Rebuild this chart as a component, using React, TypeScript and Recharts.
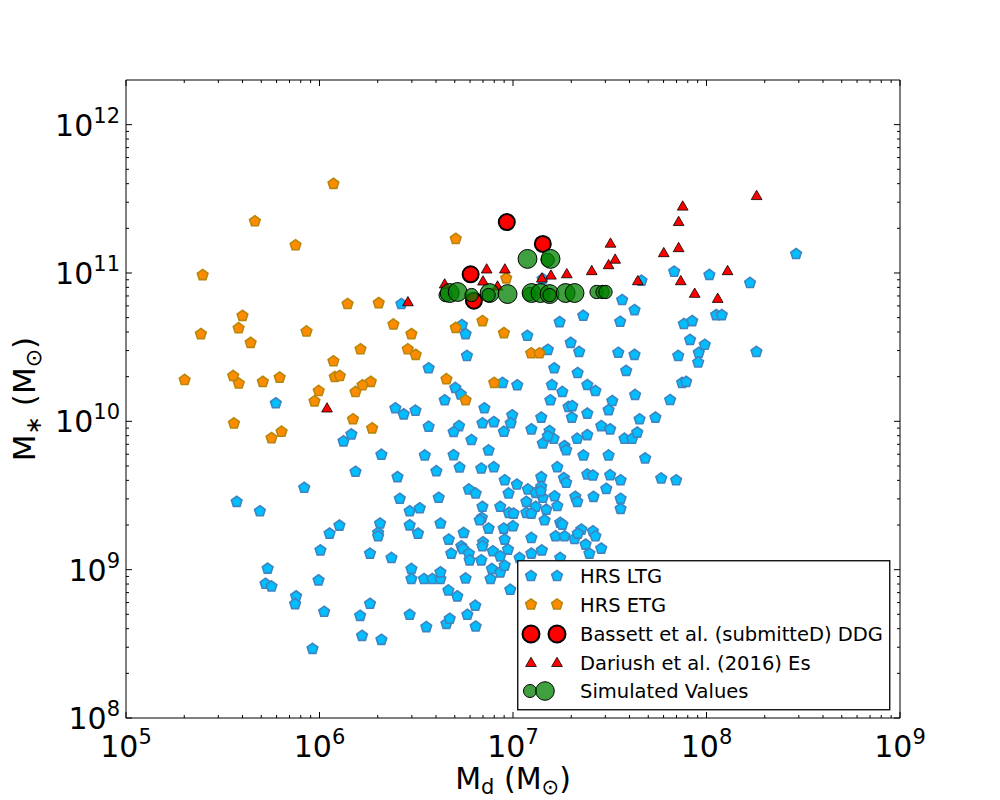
import React from "react";
import { Legend, Scatter, ScatterChart, XAxis, YAxis, ZAxis } from "recharts";

const FONT = "'DejaVu Sans', sans-serif";

// log10(M_dust / Msun), log10(M_star / Msun)
const hrsLtg: [number, number][] = [
  [5.774, 10.122], [6.165, 9.912], [6.124, 9.865], [6.32, 9.775], [6.186, 9.66], [5.921, 9.552],
  [5.572, 9.457], [5.692, 9.394], [6.313, 9.311], [6.303, 9.248], [6.303, 9.225], [6.103, 9.297],
  [6.052, 9.243], [6.005, 9.13], [6.261, 9.108], [5.732, 9.007], [5.721, 8.905], [5.752, 8.887],
  [5.995, 8.928], [5.879, 8.82], [5.874, 8.768], [6.024, 8.716], [6.261, 8.77], [6.21, 8.689],
  [6.22, 8.554], [6.32, 8.527], [5.964, 8.466], [6.423, 10.791], [6.736, 10.649], [6.755, 10.588],
  [7.074, 10.577], [7.18, 10.482], [7.213, 10.358], [6.762, 10.441], [6.564, 10.358], [6.702, 10.225],
  [6.73, 10.182], [6.946, 10.259], [7.022, 10.243], [6.647, 10.142], [7.201, 10.245], [7.193, 10.142],
  [6.392, 10.088], [6.435, 10.047], [6.496, 10.072], [6.852, 10.088], [6.996, 10.041], [7.146, 10.025],
  [7.241, 10.669], [7.664, 10.948], [7.833, 11.009], [8.015, 10.987], [7.564, 10.818], [7.628, 10.75],
  [7.363, 10.712], [7.554, 10.671], [7.883, 10.656], [7.926, 10.676], [8.05, 10.716], [7.298, 10.529],
  [7.342, 10.468], [7.544, 10.462], [7.628, 10.448], [7.915, 10.549], [7.991, 10.516], [7.96, 10.462],
  [7.854, 10.441], [7.957, 10.397], [7.334, 10.326], [7.585, 10.34], [7.255, 10.198], [7.384, 10.245],
  [7.426, 10.205], [7.631, 10.178], [7.874, 10.259], [7.895, 10.266], [7.287, 10.097], [7.306, 10.103],
  [7.513, 10.137], [7.494, 10.076], [7.384, 10.052], [7.812, 10.144], [7.654, 10.014], [7.736, 10.025],
  [7.304, 10.025], [8.463, 11.128], [8.225, 10.933], [8.079, 10.716], [8.258, 10.468], [6.564, 9.964],
  [6.721, 9.968], [6.693, 9.928], [6.842, 9.987], [6.901, 9.995], [6.988, 9.987], [6.953, 9.93],
  [7.095, 9.946], [7.189, 9.935], [7.21, 9.883], [7.154, 9.851], [7.18, 9.901], [6.785, 9.874],
  [6.544, 9.77], [6.693, 9.772], [6.874, 9.804], [6.724, 9.689], [6.604, 9.664], [6.836, 9.682],
  [6.901, 9.691], [6.403, 9.624], [6.957, 9.603], [7.02, 9.574], [7.146, 9.624], [7.229, 9.691],
  [6.772, 9.541], [6.807, 9.514], [6.977, 9.514], [7.077, 9.541], [7.146, 9.559], [6.415, 9.478],
  [6.616, 9.485], [6.842, 9.424], [6.934, 9.424], [7.215, 9.495], [7.069, 9.457], [7.117, 9.424],
  [7.154, 9.485], [6.466, 9.394], [6.518, 9.414], [6.979, 9.383], [7.003, 9.378], [6.839, 9.349],
  [6.828, 9.333], [7.069, 9.383], [7.095, 9.378], [7.172, 9.405], [7.163, 9.333], [7.229, 9.429],
  [6.466, 9.299], [6.509, 9.243], [6.625, 9.311], [6.874, 9.277], [7.0, 9.293], [6.952, 9.277],
  [6.745, 9.248], [6.668, 9.203], [6.845, 9.185], [6.842, 9.158], [6.957, 9.203], [6.974, 9.135],
  [7.095, 9.214], [7.22, 9.225], [6.733, 9.158], [6.741, 9.14], [6.896, 9.124], [7.034, 9.079],
  [7.095, 9.108], [7.149, 9.13], [6.681, 9.108], [6.772, 9.108], [6.372, 9.079], [6.934, 9.09],
  [6.475, 9.005], [6.475, 8.937], [6.54, 8.937], [6.583, 8.937], [6.625, 8.937], [6.625, 8.982],
  [6.755, 8.941], [6.776, 9.063], [6.836, 9.063], [6.891, 9.005], [6.884, 8.937], [6.934, 8.982],
  [6.957, 9.027], [6.986, 8.865], [6.666, 8.86], [6.712, 8.82], [6.805, 8.757], [6.466, 8.696],
  [6.552, 8.613], [6.656, 8.635], [6.673, 8.669], [6.764, 8.696], [6.807, 8.617], [7.456, 9.968],
  [7.502, 9.946], [7.332, 9.883], [7.384, 9.907], [7.576, 9.883], [7.616, 9.883], [7.642, 9.924],
  [7.266, 9.833], [7.275, 9.806], [7.364, 9.77], [7.494, 9.77], [7.683, 9.75], [7.384, 9.642],
  [7.413, 9.635], [7.502, 9.637], [7.556, 9.603], [7.263, 9.617], [7.275, 9.586], [7.766, 9.615],
  [7.843, 9.603], [7.482, 9.545], [7.322, 9.491], [7.332, 9.457], [7.416, 9.491], [7.556, 9.478],
  [7.556, 9.41], [7.244, 9.316], [7.255, 9.304], [7.266, 9.225], [7.318, 9.207], [7.353, 9.27],
  [7.335, 9.243], [7.413, 9.259], [7.426, 9.225], [7.375, 9.169], [7.395, 9.108], [7.456, 9.142],
  [7.244, 9.079], [7.117, 9.518], [7.143, 9.529], [7.153, 10.959],
];

const hrsEtg: [number, number][] = [
  [6.072, 11.601], [5.666, 11.349], [5.876, 11.187], [5.396, 10.986], [6.145, 10.791], [6.306, 10.797],
  [5.602, 10.711], [5.582, 10.628], [5.387, 10.588], [5.933, 10.606], [5.644, 10.529], [6.212, 10.486],
  [6.072, 10.405], [5.303, 10.279], [5.554, 10.306], [5.583, 10.255], [5.707, 10.266], [5.794, 10.295],
  [6.079, 10.299], [6.105, 10.306], [6.265, 10.266], [6.222, 10.243], [6.186, 10.198], [5.996, 10.205],
  [5.974, 10.135], [6.173, 10.014], [6.272, 9.953], [5.558, 9.986], [5.804, 9.93], [5.752, 9.887],
  [6.704, 11.23], [6.965, 10.964], [6.382, 10.653], [6.475, 10.588], [6.704, 10.63], [6.842, 10.676],
  [6.953, 10.595], [6.456, 10.486], [6.497, 10.448], [7.094, 10.459], [7.137, 10.459], [6.656, 10.284],
  [6.903, 10.259], [6.755, 10.142],
];

const bassettDdg: [number, number][] = [
  [6.781, 10.991], [6.798, 10.813], [6.968, 11.343], [7.154, 11.196],
];

const dariushEs: [number, number][] = [
  [6.039, 10.09], [6.457, 10.806], [6.647, 10.926], [6.864, 11.027], [6.958, 11.027], [6.845, 10.946],
  [6.92, 10.912], [7.149, 10.966], [7.196, 10.986], [7.278, 10.995], [7.407, 11.016], [7.494, 11.056],
  [7.504, 11.201], [7.528, 11.093], [7.645, 10.948], [7.779, 11.137], [7.856, 11.347], [7.856, 11.171],
  [7.877, 11.451], [7.867, 10.948], [7.939, 10.863], [8.058, 10.829], [8.109, 11.016], [8.259, 11.522],
];

// third column: run weight (1 = small, 2 = large marker)
const simulated: [number, number, number][] = [
  [6.652, 10.851, 1], [6.673, 10.865, 2], [6.714, 10.872, 2], [6.786, 10.851, 1], [6.879, 10.865, 2],
  [6.874, 10.851, 1], [6.972, 10.858, 2], [7.075, 11.095, 2], [7.179, 11.088, 1], [7.194, 11.095, 2],
  [7.086, 10.858, 1], [7.096, 10.865, 2], [7.142, 10.865, 2], [7.189, 10.858, 2], [7.189, 10.851, 1],
  [7.272, 10.865, 2], [7.318, 10.865, 2], [7.432, 10.872, 1], [7.463, 10.872, 1], [7.478, 10.872, 1],
];

const xMajor = [5, 6, 7, 8, 9];
const yMajor = [8, 9, 10, 11, 12];
const minorSteps = [2, 3, 4, 5, 6, 7, 8, 9];
const xDomain: [number, number] = [5, 9];
const yDomain: [number, number] = [8, 12.301];

const legendLabels = [
  "HRS LTG",
  "HRS ETG",
  "Bassett et al. (submitteD) DDG",
  "Dariush et al. (2016) Es",
  "Simulated Values",
];

const LTG_FILL = "#00BFFF";
const LTG_EDGE = "#3F84C0";
const ETG_FILL = "#FF8C00";
const ETG_EDGE = "#B8860B";

function logTicks(majors: number[], max: number) {
  const out: number[] = [];
  majors.forEach((m) => {
    out.push(m);
    minorSteps.forEach((k) => out.push(m + Math.log10(k)));
  });
  return out.filter((v) => v <= max + 1e-9);
}

const xTicks = logTicks(xMajor, xDomain[1]);
const yTicks = logTicks(yMajor, yDomain[1]);

const toPoints = (rows: [number, number][]) => rows.map(([x, y]) => ({ x, y }));

function pentagonPath(cx: number, cy: number, r: number) {
  const pts = [0, 1, 2, 3, 4].map((k) => {
    const a = (k * 72 * Math.PI) / 180;
    return `${cx + r * Math.sin(a)},${cy - r * Math.cos(a)}`;
  });
  return `M${pts.join("L")}Z`;
}

function trianglePath(cx: number, cy: number, r: number) {
  const pts = [0, 1, 2].map((k) => {
    const a = (k * 120 * Math.PI) / 180;
    return `${cx + r * Math.sin(a)},${cy - r * Math.cos(a) + r * 0.15}`;
  });
  return `M${pts.join("L")}Z`;
}

const Pentagon = (fill: string, edge: string) => (p: any) =>
  <path d={pentagonPath(p.cx, p.cy, 5.6)} fill={fill} stroke={edge} strokeWidth={1.6} />;

const Triangle = (p: any) =>
  <path d={trianglePath(p.cx, p.cy, 6.2)} fill="#FF0000" stroke="#000" strokeWidth={0.8} />;

const BigDot = (p: any) =>
  <circle cx={p.cx} cy={p.cy} r={8} fill="#FF0000" stroke="#000" strokeWidth={2} />;

function Power({ x, y, exp, anchor }: { x: number; y: number; exp: number; anchor: string }) {
  return (
    <text x={x} y={y} textAnchor={anchor} fontSize={30} fill="#000" fontFamily={FONT}>
      10
      <tspan dy={-13} fontSize={21}>{exp}</tspan>
    </text>
  );
}

const AxisTick = (side: "bottom" | "top" | "left" | "right") => (props: any) => {
  const { x, y, payload } = props;
  const v = payload.value as number;
  const major = Math.abs(v - Math.round(v)) < 1e-6;
  const len = major ? 6 : 3;
  let line;
  let label = null;
  if (side === "bottom") {
    line = <line x1={x} y1={y} x2={x} y2={y - len} />;
    if (major) label = <Power x={x} y={y + 39} exp={Math.round(v)} anchor="middle" />;
  } else if (side === "top") {
    line = <line x1={x} y1={y} x2={x} y2={y + len} />;
  } else if (side === "left") {
    line = <line x1={x} y1={y} x2={x + len} y2={y} />;
    if (major) label = <Power x={x - 6} y={y + 11} exp={Math.round(v)} anchor="end" />;
  } else {
    line = <line x1={x} y1={y} x2={x - len} y2={y} />;
  }
  return (
    <g>
      <g stroke="#000" strokeWidth={1}>{line}</g>
      {label}
    </g>
  );
};

const XTitle = (props: any) => {
  const { x, y, width } = props.viewBox;
  return (
    <text x={x + width / 2} y={y + 71} textAnchor="middle" fontSize={30} fontFamily={FONT} fill="#000">
      M<tspan dy={5} fontSize={21}>d</tspan>
      <tspan dy={-5}> (M</tspan>
      <tspan dy={5} fontSize={21}>⊙</tspan>
      <tspan dy={-5}>)</tspan>
    </text>
  );
};

const YTitle = (props: any) => {
  const { x, y, height } = props.viewBox;
  const cx = x + 9;
  const cy = y + height / 2;
  return (
    <text x={cx} y={cy} transform={`rotate(-90, ${cx}, ${cy})`} textAnchor="middle" fontSize={31}
      fontFamily={FONT} fill="#000">
      M<tspan dy={6} fontSize={22}>∗</tspan>
      <tspan dy={-6}> (M</tspan>
      <tspan dy={6} fontSize={22}>⊙</tspan>
      <tspan dy={-6}>)</tspan>
    </text>
  );
};

function LegendBox() {
  const rowY = [16, 44.5, 74, 102.5, 131];
  const mx = [14, 40];
  return (
    <svg width={374} height={151} style={{ display: "block", fontFamily: FONT }}>
      <rect x={0.75} y={0.75} width={372} height={149} fill="#fff" stroke="#000" strokeWidth={1.3} />
      {mx.map((x) => (
        <g key={x}>
          <path d={pentagonPath(x, rowY[0], 5.6)} fill={LTG_FILL} stroke={LTG_EDGE} strokeWidth={1.6} />
          <path d={pentagonPath(x, rowY[1], 5.6)} fill={ETG_FILL} stroke={ETG_EDGE} strokeWidth={1.6} />
          <circle cx={x} cy={rowY[2]} r={8.5} fill="#FF0000" stroke="#000" strokeWidth={2} />
          <path d={trianglePath(x, rowY[3], 6.2)} fill="#FF0000" stroke="#000" strokeWidth={0.8} />
        </g>
      ))}
      <circle cx={13} cy={rowY[4]} r={6.5} fill="#008000" fillOpacity={0.75} stroke="#000" />
      <circle cx={28} cy={rowY[4]} r={9.3} fill="#008000" fillOpacity={0.75} stroke="#000" />
      {legendLabels.map((t, i) => (
        <text key={t} x={63} y={rowY[i] + 7} fontSize={19.5} fill="#000">{t}</text>
      ))}
    </svg>
  );
}

export default function App() {
  const simPoints = simulated.map(([x, y, w]) => ({ x, y, w }));
  return (
    <div style={{ position: "absolute", left: 0, top: 0, background: "#fff" }}>
      <ScatterChart width={1000} height={800} margin={{ top: 70, right: 90, bottom: 32, left: 26 }}
        style={{ fontFamily: FONT }}>
        <XAxis xAxisId={0} type="number" dataKey="x" domain={xDomain} ticks={xTicks} interval={0}
          allowDataOverflow height={50} tickSize={0} tickMargin={0} tick={AxisTick("bottom")}
          axisLine={{ stroke: "#000" }} label={<XTitle />} />
        <XAxis xAxisId="top" orientation="top" type="number" dataKey="x" domain={xDomain} ticks={xTicks}
          interval={0} allowDataOverflow height={10} tickSize={0} tickMargin={0} tick={AxisTick("top")}
          axisLine={{ stroke: "#000" }} />
        <YAxis yAxisId={0} type="number" dataKey="y" domain={yDomain} ticks={yTicks} interval={0}
          allowDataOverflow width={100} tickSize={0} tickMargin={0} tick={AxisTick("left")}
          axisLine={{ stroke: "#000" }} label={<YTitle />} />
        <YAxis yAxisId="right" orientation="right" type="number" dataKey="y" domain={yDomain} ticks={yTicks}
          interval={0} allowDataOverflow width={10} tickSize={0} tickMargin={0} tick={AxisTick("right")}
          axisLine={{ stroke: "#000" }} />
        <ZAxis zAxisId="sim" type="number" dataKey="w" domain={[1, 2]} range={[140, 280]} />
        <Scatter name="HRS LTG" data={toPoints(hrsLtg)} shape={Pentagon(LTG_FILL, LTG_EDGE)}
          isAnimationActive={false} />
        <Scatter name="HRS ETG" data={toPoints(hrsEtg)} shape={Pentagon(ETG_FILL, ETG_EDGE)}
          isAnimationActive={false} />
        <Scatter name="Bassett et al. (submitteD) DDG" data={toPoints(bassettDdg)} shape={BigDot}
          isAnimationActive={false} />
        <Scatter name="Dariush et al. (2016) Es" data={toPoints(dariushEs)} shape={Triangle}
          isAnimationActive={false} />
        <Scatter name="Simulated Values" data={simPoints} zAxisId="sim" shape="circle" fill="#008000"
          fillOpacity={0.75} stroke="#000" strokeWidth={1} isAnimationActive={false} />
        <Legend layout="horizontal" verticalAlign="middle" align="center" content={() => <LegendBox />}
          wrapperStyle={{ left: 517, top: 560, width: 374, height: 151 }} />
      </ScatterChart>
    </div>
  );
}
